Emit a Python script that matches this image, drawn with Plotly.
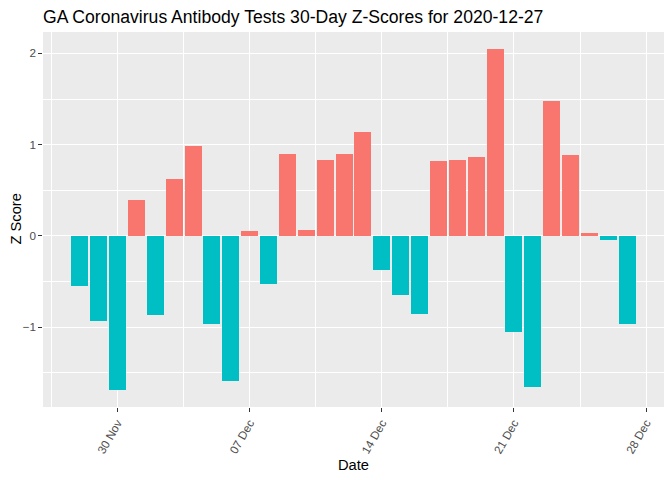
import pandas as pd
import plotly.graph_objects as go

start_date = "2020-11-28"
z_scores = [-0.547, -0.931, -1.686, 0.394, -0.865, 0.624, 0.985, -0.964, -1.588, 0.055,
            -0.526, 0.898, 0.066, 0.832, 0.898, 1.139, -0.372, -0.646, -0.854, 0.821,
            0.832, 0.865, 2.047, -1.051, -1.653, 1.478, 0.887, 0.033, -0.044, -0.964]
dates = pd.date_range(start_date, periods=len(z_scores), freq="D")
pos_color = "#F8766D"
neg_color = "#00BFC4"
colors = [pos_color if v > 0 else neg_color for v in z_scores]

DAY = 86400000
bar_w = 0.9
# page body has an 8px margin; size the figure so it fits the 672x480 window
OFF = 8
W, H = 672 - OFF, 480 - OFF
ML, MR, MT, MB = 43 - OFF, 8, 32 - OFF, 73

fig = go.Figure()
fig.add_trace(go.Bar(x=dates, y=z_scores, width=[bar_w * DAY] * len(z_scores),
                     marker=dict(color=colors, line=dict(width=0)), showlegend=False))

# ggplot-like expansion
x_lo = dates[0] - pd.Timedelta(days=bar_w / 2)
x_hi = dates[-1] + pd.Timedelta(days=bar_w / 2)
span = x_hi - x_lo
x_range = [x_lo - span * 0.05, x_hi + span * 0.05]
y_lo = min(0, min(z_scores)); y_hi = max(0, max(z_scores))
ys = y_hi - y_lo
y_range = [y_lo - ys * 0.05, y_hi + ys * 0.05]

font_family = "Liberation Sans, Arial, sans-serif"
fig.update_layout(
    width=W, height=H,
    margin=dict(l=ML, r=MR, t=MT, b=MB, autoexpand=False),
    paper_bgcolor="white", plot_bgcolor="#EBEBEB",
    font=dict(family=font_family, color="black"),
    title=dict(text="GA Coronavirus Antibody Tests 30-Day Z-Scores for 2020-12-27",
               x=0, xref="paper", xanchor="left", y=1 - (16.5 - OFF) / H, yref="container",
               yanchor="middle", font=dict(size=17.6, color="black")),
    bargap=0,
)
fig.update_xaxes(
    type="date", range=x_range, tick0="2020-11-30", dtick=7 * DAY, tickformat="%d %b",
    tickangle=-60, ticks="outside", ticklen=3.6, tickwidth=1.07, tickcolor="#333333",
    tickfont=dict(size=11.7, color="#4D4D4D"), automargin=False,
    showgrid=True, gridcolor="white", gridwidth=1.07, zeroline=False, showline=False,
    minor=dict(dtick=3.5 * DAY, tick0="2020-11-26 12:00", showgrid=True,
               gridcolor="white", gridwidth=0.53, ticks=""),
)
fig.update_yaxes(
    range=y_range, tick0=0, dtick=1, ticks="outside", ticklen=3.6, tickwidth=1.07,
    tickcolor="#333333", tickfont=dict(size=11.7, color="#4D4D4D"), automargin=False,
    showgrid=True, gridcolor="white", gridwidth=1.07, zeroline=False, showline=False,
    minor=dict(dtick=0.5, tick0=0, showgrid=True, gridcolor="white", gridwidth=0.53, ticks=""),
)
pw = W - ML - MR
ph = H - MT - MB
fig.add_annotation(text="Date", xref="paper", yref="paper", showarrow=False,
                   x=0.5, y=-((465 - OFF) - (H - MB)) / ph, xanchor="center", yanchor="middle",
                   font=dict(size=14.7, color="black"))
fig.add_annotation(text="Z Score", xref="paper", yref="paper", showarrow=False,
                   x=-(ML - (15 - OFF)) / pw, y=0.5, xanchor="center", yanchor="middle",
                   textangle=-90, font=dict(size=14.7, color="black"))
fig.write_html("out.html")
